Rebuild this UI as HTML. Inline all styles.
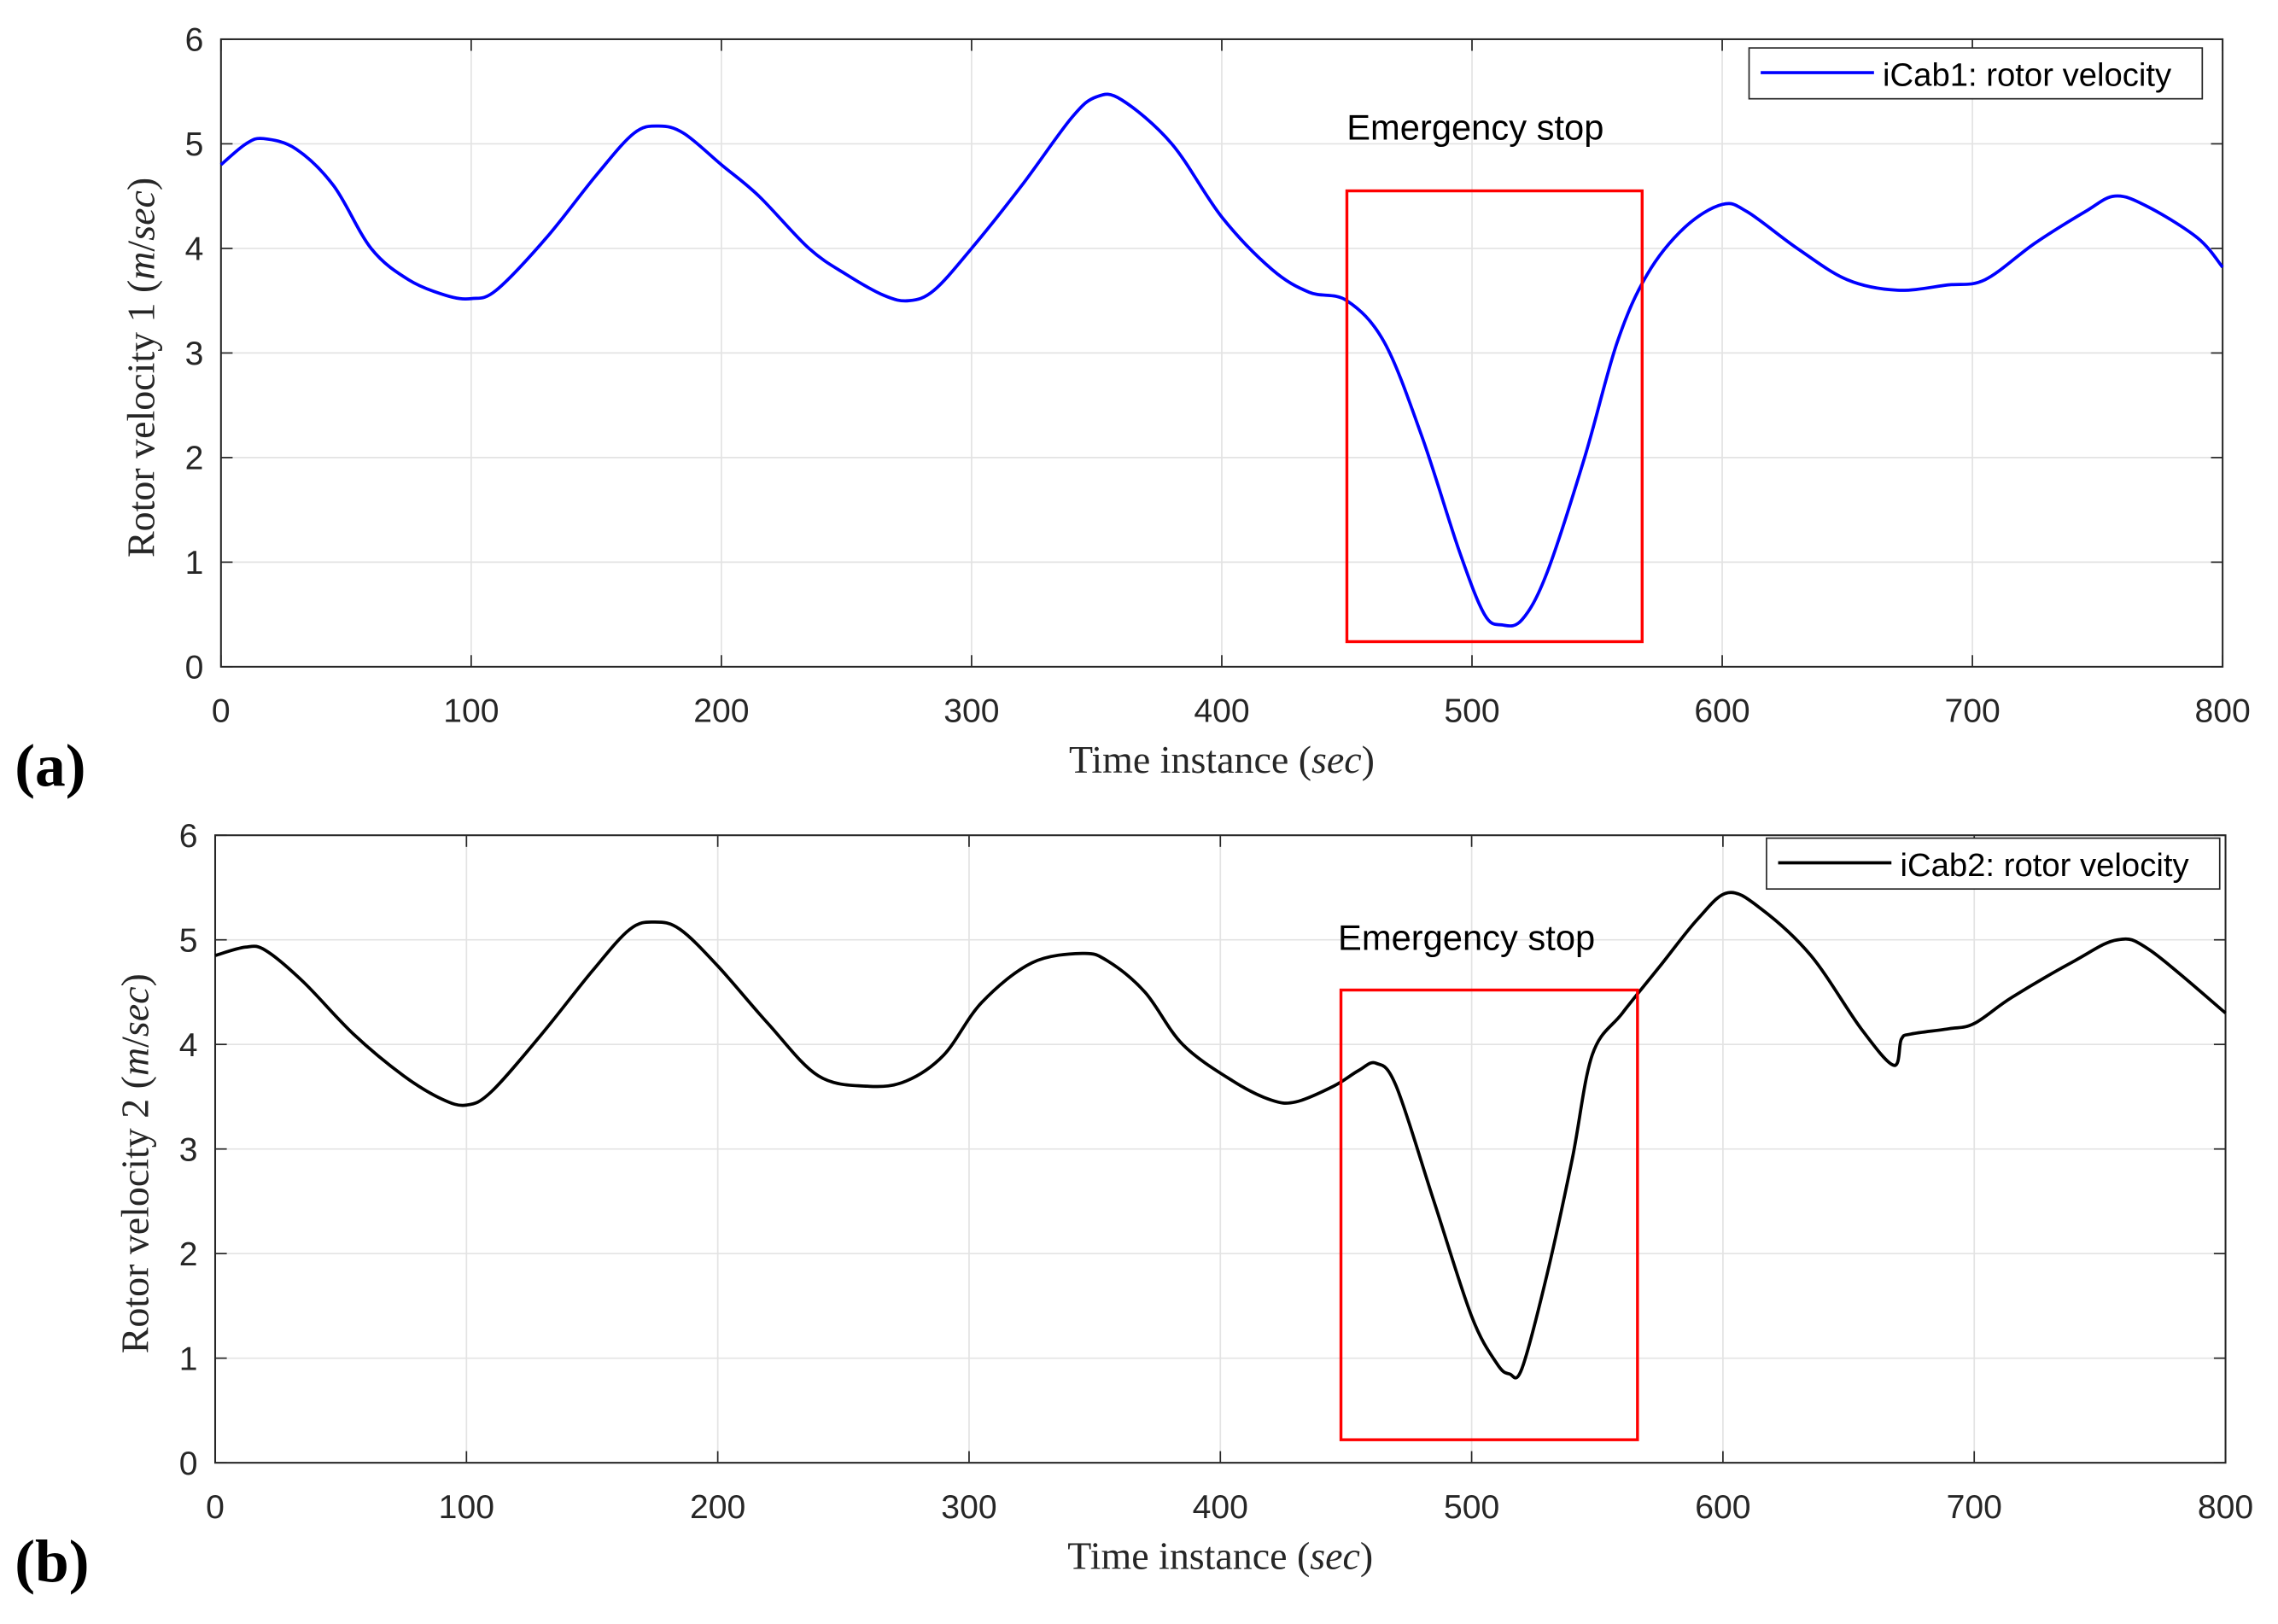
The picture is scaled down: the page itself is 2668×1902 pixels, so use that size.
<!DOCTYPE html>
<html><head><meta charset="utf-8"><style>
html,body{margin:0;padding:0;background:#fff}
svg{display:block}
.tick{font-family:"Liberation Sans",sans-serif;font-size:23px;fill:#262626}
.lab{font-family:"Liberation Serif",serif;font-size:27px;fill:#262626}
.leg{font-family:"Liberation Sans",sans-serif;font-size:22.5px;fill:#000}
.ann{font-family:"Liberation Sans",sans-serif;font-size:24.5px;fill:#000}
.pl{font-family:"Liberation Serif",serif;font-size:42px;font-weight:bold;fill:#000}
</style></head><body>
<svg id="fig" width="2668" height="1902" viewBox="0 0 1568 1118" xmlns="http://www.w3.org/2000/svg"></svg>
<script>
const xTicks=[0,100,200,300,400,500,600,700,800];
const yTicks=[0,1,2,3,4,5,6];
const t1=[0,10,17,30,45,60,75,90,100,110,130,150,165,175,185,200,215,235,250,265,275,285,300,320,340,350,360,380,400,420,435,450,465,480,495,505,512,520,530,545,558,570,585,600,610,630,650,670,690,705,725,745,757,770,790,800];
const v1=[4.8,5.0,5.05,4.95,4.6,4.0,3.7,3.55,3.52,3.6,4.1,4.7,5.1,5.17,5.1,4.8,4.5,4.0,3.75,3.55,3.5,3.6,4.0,4.6,5.25,5.45,5.42,5.0,4.3,3.8,3.58,3.5,3.1,2.2,1.1,0.5,0.4,0.45,0.9,2.0,3.1,3.75,4.2,4.42,4.35,4.0,3.7,3.6,3.65,3.7,4.05,4.35,4.5,4.4,4.1,3.82];
const t2=[0,12,20,35,55,75,90,100,110,130,150,165,175,185,200,220,240,260,275,290,305,325,345,355,370,385,405,420,430,445,455,462,470,485,500,510,515,520,530,540,548,560,575,590,602,615,635,655,668,671,675,690,700,715,740,757,770,800];
const v2=[4.85,4.93,4.9,4.6,4.1,3.7,3.48,3.42,3.55,4.1,4.7,5.1,5.17,5.1,4.75,4.2,3.7,3.6,3.65,3.9,4.4,4.78,4.87,4.8,4.5,4.0,3.65,3.47,3.45,3.6,3.75,3.82,3.6,2.5,1.4,0.95,0.85,0.9,1.8,2.9,3.9,4.3,4.75,5.2,5.45,5.3,4.85,4.15,3.8,4.05,4.1,4.15,4.2,4.45,4.8,5.0,4.9,4.3];
const boxX1=[450,568], boxX2=[448,566], boxY1=[0.24,4.55], boxY2=[0.22,4.52];
const NS="http://www.w3.org/2000/svg";
const svg=document.getElementById('fig');
function mk(tag,attrs,parent){const e=document.createElementNS(NS,tag);for(const k in attrs)e.setAttribute(k,attrs[k]);(parent||svg).appendChild(e);return e;}
function panel(cfg){
 const g=mk('g',{});
 
 
 const X=v=>cfg.x0+(cfg.x1-cfg.x0)*v/800, Y=v=>cfg.y0-(cfg.y0-cfg.y1)*v/6;
 xTicks.forEach(t=>{
  const l=mk('line',{x1:X(t),x2:X(t),y1:cfg.y1,y2:cfg.y0,stroke:'#e3e3e3','stroke-width':1},g);
  
  mk('line',{x1:X(t),x2:X(t),y1:cfg.y0,y2:cfg.y0-8,stroke:'#262626'},g);
  mk('line',{x1:X(t),x2:X(t),y1:cfg.y1,y2:cfg.y1+8,stroke:'#262626'},g);
  const tx=mk('text',{x:X(t),y:cfg.y0+38,'text-anchor':'middle',class:'tick'},g);tx.textContent=t;
  
 });
 yTicks.forEach(t=>{
  const l=mk('line',{x1:cfg.x0,x2:cfg.x1,y1:Y(t),y2:Y(t),stroke:'#e3e3e3','stroke-width':1},g);
  
  mk('line',{x1:cfg.x0,x2:cfg.x0+8,y1:Y(t),y2:Y(t),stroke:'#262626'},g);
  mk('line',{x1:cfg.x1,x2:cfg.x1-8,y1:Y(t),y2:Y(t),stroke:'#262626'},g);
  const tx=mk('text',{x:cfg.x0-12,y:Y(t)+8,'text-anchor':'end',class:'tick'},g);tx.textContent=t;
  
 });
 const fr=mk('rect',{x:cfg.x0,y:cfg.y1,width:cfg.x1-cfg.x0,height:cfg.y0-cfg.y1,fill:'none',stroke:'#262626','stroke-width':1.2},g);
 
 const P=cfg.t.map((t,i)=>[X(t),Y(cfg.v[i])]);
 let d='M'+P[0][0]+','+P[0][1];
 for(let i=0;i<P.length-1;i++){const p0=P[Math.max(0,i-1)],p1=P[i],p2=P[i+1],p3=P[Math.min(P.length-1,i+2)];
  d+=' C'+(p1[0]+(p2[0]-p0[0])/6)+','+(p1[1]+(p2[1]-p0[1])/6)+' '+(p2[0]-(p3[0]-p1[0])/6)+','+(p2[1]-(p3[1]-p1[1])/6)+' '+p2[0]+','+p2[1];}
 const c=mk('path',{d:d,fill:'none',stroke:cfg.color,'stroke-width':2.2},g);
 
 const b=mk('rect',{x:X(cfg.bx[0]),y:Y(cfg.box[1]),width:X(cfg.bx[1])-X(cfg.bx[0]),height:Y(cfg.box[0])-Y(cfg.box[1]),fill:'none',stroke:'#ff0000','stroke-width':2},g);
 
 const an=mk('text',{x:cfg.annX,y:cfg.annY,class:'ann'},g);an.textContent='Emergency stop';
 
 const lg=mk('g',{},g);
 mk('rect',{x:cfg.lx,y:cfg.ly,width:312,height:35,fill:'#fff',stroke:'#262626','stroke-width':1},lg);
 mk('line',{x1:cfg.lx+8,x2:cfg.lx+86,y1:cfg.ly+17,y2:cfg.ly+17,stroke:cfg.color,'stroke-width':2.2},lg);
 const lt=mk('text',{x:cfg.lx+92,y:cfg.ly+26,class:'leg'},lg);lt.textContent=cfg.leg;
 
 const xl=mk('text',{x:(cfg.x0+cfg.x1)/2,y:cfg.y0+73,'text-anchor':'middle',class:'lab'},g);
 xl.innerHTML='Time instance (<tspan font-style="italic">sec</tspan>)';
 
 const yl=mk('text',{x:0,y:0,'text-anchor':'middle',class:'lab',transform:`translate(${cfg.x0-46},${(cfg.y0+cfg.y1)/2+10}) rotate(-90)`},g);
 yl.innerHTML=cfg.ylab+' (<tspan font-style="italic">m</tspan>/<tspan font-style="italic">sec</tspan>)';
 
 const pl=mk('text',{x:10,y:cfg.y0+82,class:'pl'},g);pl.textContent=cfg.plab;
 
}
panel({name:'panel-a',x0:152,x1:1530,y0:459,y1:27,t:t1,v:v1,color:'#0000ff',lineName:'icab1-rotor-velocity-line',bx:boxX1,box:boxY1,annX:927,annY:96,lx:1204,ly:33,leg:'iCab1: rotor velocity',ylab:'Rotor velocity 1',plab:'(a)'});
panel({name:'panel-b',x0:148,x1:1532,y0:1007,y1:575,t:t2,v:v2,color:'#000000',lineName:'icab2-rotor-velocity-line',bx:boxX2,box:boxY2,annX:921,annY:654,lx:1216,ly:577,leg:'iCab2: rotor velocity',ylab:'Rotor velocity 2',plab:'(b)'});
</script>
</body></html>
